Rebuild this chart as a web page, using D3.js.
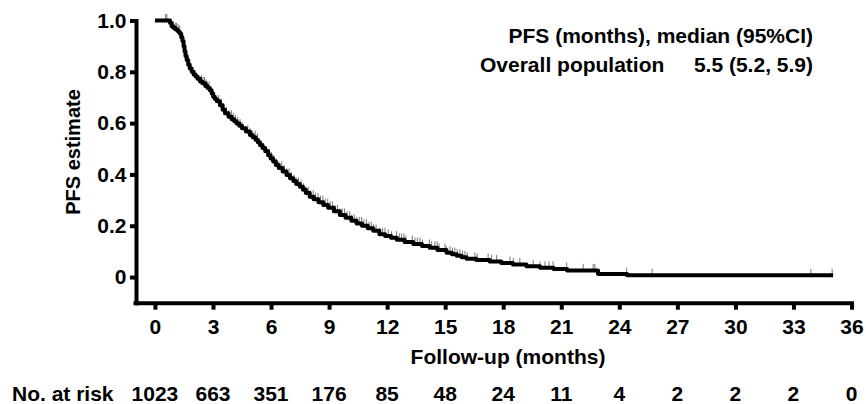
<!DOCTYPE html>
<html>
<head>
<meta charset="utf-8">
<script src="https://cdn.jsdelivr.net/npm/d3@7"></script>
<style>
  body { margin: 0; background: #fff; }
  text { font-family: "Liberation Sans", Arial, sans-serif; font-weight: bold; fill: #000; }
</style>
</head>
<body>
<div id="viz"></div>
<script>
// KM step points: [month, PFS estimate]
const pfsSteps = [
  [0, 1], [0.69, 1], [0.78, 0.99], [0.86, 0.978], [0.95, 0.972], [1.05, 0.966], [1.15, 0.96],
  [1.22, 0.955], [1.29, 0.948], [1.36, 0.935], [1.42, 0.92], [1.48, 0.9], [1.53, 0.88],
  [1.58, 0.862], [1.64, 0.846], [1.72, 0.828], [1.8, 0.813], [1.9, 0.8], [2.0, 0.79],
  [2.1, 0.782], [2.2, 0.773], [2.33, 0.762], [2.45, 0.755], [2.6, 0.745], [2.72, 0.737],
  [2.84, 0.728], [2.93, 0.715], [3.01, 0.703], [3.1, 0.694], [3.2, 0.685], [3.36, 0.67],
  [3.5, 0.652], [3.62, 0.638], [3.8, 0.625], [3.96, 0.615], [4.1, 0.607], [4.22, 0.599],
  [4.36, 0.59], [4.5, 0.58], [4.7, 0.567], [4.91, 0.554], [5.05, 0.545], [5.2, 0.535],
  [5.32, 0.525], [5.43, 0.515], [5.56, 0.503], [5.7, 0.49], [5.85, 0.475], [5.98, 0.462],
  [6.11, 0.45], [6.25, 0.437], [6.4, 0.425], [6.6, 0.411], [6.8, 0.398], [6.98, 0.385],
  [7.15, 0.374], [7.3, 0.363], [7.49, 0.352], [7.65, 0.34], [7.8, 0.328], [8.0, 0.313],
  [8.2, 0.303], [8.45, 0.292], [8.7, 0.281], [8.95, 0.27], [9.25, 0.256], [9.56, 0.242],
  [9.85, 0.231], [10.15, 0.219], [10.42, 0.209], [10.7, 0.2], [11.0, 0.19], [11.28, 0.18],
  [11.6, 0.167], [11.9, 0.16], [12.2, 0.153], [12.5, 0.145], [12.9, 0.137], [13.35, 0.129],
  [13.8, 0.121], [14.2, 0.114], [14.6, 0.105], [15.07, 0.095], [15.35, 0.089], [15.6, 0.083],
  [15.85, 0.077], [16.1, 0.071], [16.6, 0.066], [17.3, 0.061], [17.9, 0.055], [18.5, 0.049],
  [19.2, 0.042], [19.9, 0.036], [20.6, 0.031], [21.3, 0.026], [22.9, 0.012], [24.4, 0.007],
  [35.05, 0.007]
];

// censored times (months)
const censorTimes = [
  0.55, 0.62, 0.95, 1.05, 1.12, 1.2, 1.28,
  2.4, 2.48, 2.56, 2.64, 2.72, 2.8,
  3.3, 3.42, 3.55, 3.7, 3.82, 3.95, 4.05, 4.15, 4.28, 4.4, 4.5,
  4.8, 4.92, 5.05, 5.18, 5.3,
  5.9, 6.02, 6.15, 6.28, 6.4, 6.55, 6.68, 6.8, 6.93, 7.05, 7.18, 7.3, 7.42,
  7.55, 7.68, 7.8, 7.92, 8.05, 8.18, 8.3, 8.43, 8.56, 8.68, 8.8, 8.93, 9.06, 9.18,
  9.3, 9.43, 9.56, 9.68, 9.8, 9.93, 10.06, 10.18, 10.3, 10.43, 10.56, 10.68, 10.8,
  10.93, 11.06, 11.18, 11.3, 11.43,
  11.63, 11.77, 11.89, 12.06, 12.23, 12.49, 12.63, 12.75, 12.87, 12.97, 13.3, 13.44,
  13.56, 13.7, 13.82, 14.18, 14.3, 14.47, 14.59, 14.69, 14.99, 15.07, 15.25, 15.38,
  15.5, 15.62, 15.76, 15.9, 16.02, 16.14, 16.54, 16.66, 17.22, 17.4, 17.66, 18.35,
  18.52, 18.86, 19.55, 19.9, 20.16, 20.36, 20.58, 21.28, 22.13, 22.65, 22.74, 24.38,
  25.7, 33.9, 35.0
];

const xTicks = [0, 3, 6, 9, 12, 15, 18, 21, 24, 27, 30, 33, 36];
const yTicks = [0, 0.2, 0.4, 0.6, 0.8, 1.0];
const yTickLabels = ["0", "0.2", "0.4", "0.6", "0.8", "1.0"];
const atRisk = [1023, 663, 351, 176, 85, 48, 24, 11, 4, 2, 2, 2, 0];

const legendTitle = "PFS (months), median (95%CI)";
const groupName = "Overall population";
const groupMedian = "5.5 (5.2, 5.9)";

const width = 866, height = 404;

const svg = d3.select("#viz")
    .append("svg")
    .attr("width", width)
    .attr("height", height);

svg.append("rect").attr("width", width).attr("height", height).attr("fill", "#fff");

const xScale = d3.scaleLinear()
    .domain([-1.03, 36])
    .range([135, 851.5]);

const yScale = d3.scaleLinear()
    .domain([-0.1, 1.0])
    .range([302.7, 20.5]);

// axes
const xAxisGroup = svg.append("g")
    .attr("transform", "translate(0," + yScale(-0.1) + ")")
    .call(d3.axisBottom(xScale).tickValues(xTicks).tickSize(7).tickSizeOuter(0).tickPadding(9.3));

const yAxisGroup = svg.append("g")
    .attr("transform", "translate(136,0)")
    .call(d3.axisLeft(yScale).tickValues(yTicks).tickSize(6).tickSizeOuter(0).tickPadding(3.5)
        .tickFormat((d, i) => yTickLabels[i]));

[xAxisGroup, yAxisGroup].forEach(g => {
    g.select(".domain").attr("stroke", "#000").attr("stroke-width", 4).attr("stroke-linecap", "square");
    g.selectAll(".tick line").attr("stroke", "#000").attr("stroke-width", 4);
    g.selectAll(".tick text").attr("font-size", 21).attr("font-family", null);
});

// KM curve
const line = d3.line()
    .x(d => xScale(d[0]))
    .y(d => yScale(d[1]))
    .curve(d3.curveStepAfter);

// censor marks, placed on the step value at that time
const bisect = d3.bisector(d => d[0]).right;
function survAt(t) {
    const i = bisect(pfsSteps, t) - 1;
    return pfsSteps[Math.max(0, i)][1];
}

svg.append("g")
    .selectAll("line")
    .data(censorTimes)
    .enter().append("line")
    .attr("x1", d => xScale(d))
    .attr("x2", d => xScale(d))
    .attr("y1", d => yScale(survAt(d)) - 6.5)
    .attr("y2", d => yScale(survAt(d)))
    .attr("stroke", "#777")
    .attr("stroke-width", 1);

svg.append("path")
    .datum(pfsSteps)
    .attr("d", line)
    .attr("fill", "none")
    .attr("stroke", "#000")
    .attr("stroke-width", 4)
    .attr("stroke-linejoin", "round");

// axis titles
svg.append("text")
    .attr("x", 508)
    .attr("y", 364)
    .attr("text-anchor", "middle")
    .attr("font-size", 21)
    .text("Follow-up (months)");

svg.append("text")
    .attr("transform", "translate(80,152) rotate(-90)")
    .attr("text-anchor", "middle")
    .attr("font-size", 20)
    .text("PFS estimate");

// legend
svg.append("text")
    .attr("x", 813)
    .attr("y", 43.3)
    .attr("text-anchor", "end")
    .attr("font-size", 21)
    .text(legendTitle);

svg.append("text")
    .attr("x", 480)
    .attr("y", 71.7)
    .attr("font-size", 21)
    .text(groupName);

svg.append("text")
    .attr("x", 813)
    .attr("y", 71.7)
    .attr("text-anchor", "end")
    .attr("font-size", 21)
    .text(groupMedian);

// number at risk
svg.append("text")
    .attr("x", 12)
    .attr("y", 400.7)
    .attr("font-size", 21)
    .text("No. at risk");

svg.append("g")
    .selectAll("text")
    .data(atRisk)
    .enter().append("text")
    .attr("x", (d, i) => xScale(xTicks[i]))
    .attr("y", 400.7)
    .attr("text-anchor", "middle")
    .attr("font-size", 21)
    .text(d => d);
</script>
</body>
</html>
